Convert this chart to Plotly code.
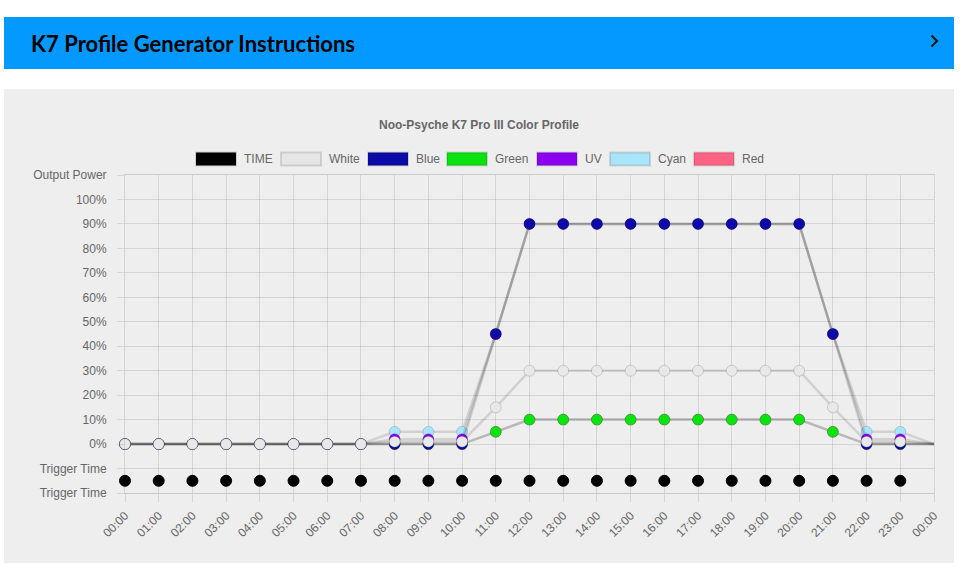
import plotly.graph_objects as go

# ---------------- data ----------------
hours = [0, 1, 2, 3, 4, 5, 6, 7, 8, 9, 10, 11, 12, 13, 14, 15, 16, 17, 18, 19, 20, 21, 22, 23, 24]
tick_labels = ["00:00", "01:00", "02:00", "03:00", "04:00", "05:00", "06:00", "07:00",
               "08:00", "09:00", "10:00", "11:00", "12:00", "13:00", "14:00", "15:00",
               "16:00", "17:00", "18:00", "19:00", "20:00", "21:00", "22:00", "23:00", "00:00"]

time_hours = [0, 1, 2, 3, 4, 5, 6, 7, 8, 9, 10, 11, 12, 13, 14, 15, 16, 17, 18, 19, 20, 21, 22, 23]
time_vals = [-15] * 24

white = [0, 0, 0, 0, 0, 0, 0, 0, 1, 1, 1, 15, 30, 30, 30, 30, 30, 30, 30, 30, 30, 15, 1, 1, 0]
blue = [0, 0, 0, 0, 0, 0, 0, 0, 0, 0, 0, 45, 90, 90, 90, 90, 90, 90, 90, 90, 90, 45, 0, 0, 0]
green = [0, 0, 0, 0, 0, 0, 0, 0, 0, 0, 0, 5, 10, 10, 10, 10, 10, 10, 10, 10, 10, 5, 0, 0, 0]
uv = [0, 0, 0, 0, 0, 0, 0, 0, 2, 2, 2, 45, 90, 90, 90, 90, 90, 90, 90, 90, 90, 45, 2, 2, 0]
cyan = [0, 0, 0, 0, 0, 0, 0, 0, 5, 5, 5, 45, 90, 90, 90, 90, 90, 90, 90, 90, 90, 45, 5, 5, 0]
red = [0, 0, 0, 0, 0, 0, 0, 0, 0, 0, 0, 5, 10, 10, 10, 10, 10, 10, 10, 10, 10, 5, 0, 0, 0]

y_tickvals = [-20, -10, 0, 10, 20, 30, 40, 50, 60, 70, 80, 90, 100, 110]
y_ticktext = ["Trigger Time", "Trigger Time", "0%", "10%", "20%", "30%", "40%", "50%",
              "60%", "70%", "80%", "90%", "100%", "Output Power"]

series_names = ["TIME", "White", "Blue", "Green", "UV", "Cyan", "Red"]

# ---------------- layout geometry ----------------
W, H = 967, 574
L, R, T, B = 125, 33, 175, 81
PW, PH = W - L - R, H - T - B


def fx(px):
    return (px - L) / PW


def fy(py):
    return (H - B - py) / PH


LINE_COL = "rgba(0,0,0,0.12)"
GRID_COL = "rgba(0,0,0,0.1)"
FONT = "Liberation Sans, Arial, sans-serif"

fig = go.Figure()

marker_sizes = [11] * 24 + [0]
series = [("Red", red, "#ff6384"), ("Cyan", cyan, "#a8e4fa"), ("UV", uv, "#8c00f0"),
          ("Green", green, "#0ae30f"), ("Blue", blue, "#0b0ba8"), ("White", white, "#e8e8e8")]
for name, vals, col in series:
    fig.add_trace(go.Scatter(
        x=hours, y=vals, name=name, mode="lines+markers",
        line=dict(color=LINE_COL, width=2.5),
        marker=dict(size=marker_sizes, color=col, opacity=1,
                    line=dict(color="rgba(0,0,0,0.15)", width=1)),
        cliponaxis=False, showlegend=False, hoverinfo="skip"))

fig.add_trace(go.Scatter(
    x=time_hours, y=time_vals, name="TIME", mode="markers",
    marker=dict(size=11, color="#000000", opacity=1, line=dict(color="#000000", width=1)),
    cliponaxis=False, showlegend=False, hoverinfo="skip"))

shapes = []
annotations = []

# grey panel
shapes.append(dict(type="rect", xref="paper", yref="paper", x0=fx(4), x1=fx(954), y0=fy(563), y1=fy(89),
                   fillcolor="#eeeeee", line=dict(width=0), layer="below"))
# header bar
shapes.append(dict(type="rect", xref="paper", yref="paper", x0=fx(4), x1=fx(954), y0=fy(69), y1=fy(17),
                   fillcolor="#0399ff", line=dict(width=0), layer="below"))
# chevron
shapes.append(dict(type="path", xref="paper", yref="paper",
                   path=f"M {fx(931.5)},{fy(35.5)} L {fx(937)},{fy(41)} L {fx(931.5)},{fy(46.5)}",
                   line=dict(color="#111111", width=2)))
annotations.append(dict(xref="paper", yref="paper", x=fx(29), y=fy(43), xanchor="left", yanchor="middle",
                        text="K7 Profile Generator Instructions", showarrow=False,
                        font=dict(family="Lato, sans-serif", size=22, color="#000000", weight="bold")))
# chart title
annotations.append(dict(xref="paper", yref="paper", x=fx(479), y=fy(125), xanchor="center", yanchor="middle",
                        text="Noo-Psyche K7 Pro III Color Profile", showarrow=False,
                        font=dict(family=FONT, size=12, color="#666666", weight="bold")))

# custom legend
legend_box_x = [196, 281, 368, 447, 537, 610, 694]
legend_fill = {"TIME": "#000000", "White": "#e6e6e6", "Blue": "#0b0ba8", "Green": "#0ae30f",
               "UV": "#8c00f0", "Cyan": "#a8e4fa", "Red": "#ff6384"}
for bx, name in zip(legend_box_x, series_names):
    shapes.append(dict(type="rect", xref="paper", yref="paper", x0=fx(bx), x1=fx(bx + 40),
                       y0=fy(165.5), y1=fy(152.5), fillcolor=legend_fill[name],
                       line=dict(color="rgba(0,0,0,0.12)", width=2)))
    annotations.append(dict(xref="paper", yref="paper", x=fx(bx + 46), y=fy(159), xanchor="left",
                            yanchor="middle", text=name, showarrow=False,
                            font=dict(family=FONT, size=12, color="#666666")))

fig.update_layout(
    width=W, height=H, margin=dict(l=L, r=R, t=T, b=B, pad=0),
    paper_bgcolor="#ffffff", plot_bgcolor="#eeeeee",
    shapes=shapes, annotations=annotations, showlegend=False,
    font=dict(family=FONT, size=12, color="#666666"),
)

fig.update_xaxes(
    range=[0, 24], tickmode="array", tickvals=hours, ticktext=tick_labels, tickangle=-45,
    showgrid=True, gridcolor=GRID_COL, gridwidth=1, zeroline=False,
    showline=True, linecolor="rgba(0,0,0,0.15)", linewidth=1, mirror=True,
    ticks="outside", ticklen=8, tickcolor=GRID_COL, ticklabelstandoff=2,
    tickfont=dict(family=FONT, size=12, color="#666666"), fixedrange=True,
)
fig.update_yaxes(
    range=[-20, 110], tickmode="array", tickvals=y_tickvals, ticktext=y_ticktext,
    showgrid=True, gridcolor=GRID_COL, gridwidth=1, zeroline=False,
    showline=True, linecolor="rgba(0,0,0,0.1)", linewidth=1, mirror=True,
    ticks="outside", ticklen=7, tickcolor=GRID_COL, ticklabelstandoff=8,
    tickfont=dict(family=FONT, size=12, color="#666666"), fixedrange=True,
)

fig.write_html("out.html", config={"displayModeBar": False})
